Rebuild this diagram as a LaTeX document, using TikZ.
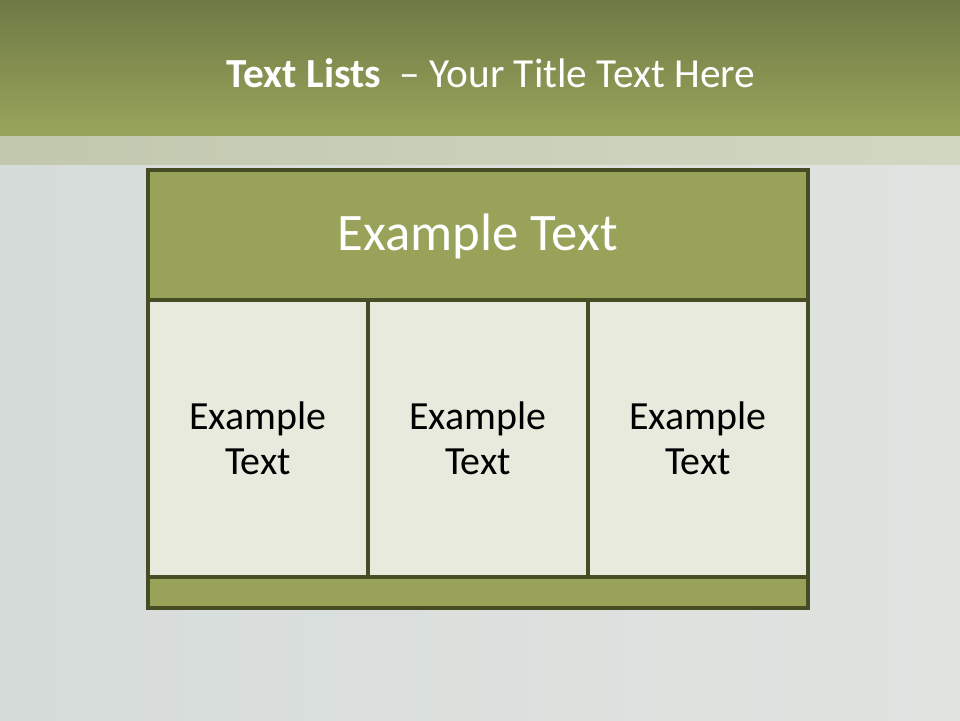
\documentclass[tikz,border=0pt]{standalone}
\usepackage{fontspec}
\setmainfont{Carlito}
\usepackage{xcolor}
\usepackage{tikz}
\usetikzlibrary{positioning}

\definecolor{olivetop}{HTML}{6E7A45}
\definecolor{olivemid}{HTML}{9AA55B}
\definecolor{olivebox}{HTML}{98A258}
\definecolor{oliveline}{HTML}{464D25}
\definecolor{cellfill}{HTML}{E8EADD}
\definecolor{stripL}{HTML}{C2C8AE}
\definecolor{stripR}{HTML}{D2D7C2}
\definecolor{waterA}{HTML}{D6DCDA}
\definecolor{waterB}{HTML}{E0E4E1}

\begin{document}
\begin{tikzpicture}[
  cell/.style={draw=oliveline, line width=2.8pt, fill=cellfill,
    minimum width=5.5cm, minimum height=6.925cm, align=center,
    font=\fontsize{28.4}{32}\selectfont, text=black},
  bar/.style={draw=oliveline, line width=2.8pt, fill=olivebox,
    minimum width=16.5cm},
  titletext/.style={text=white, font=\fontsize{29.4}{35}\selectfont}
]
% Background and title band
\fill[left color=waterA, right color=waterB] (0,0) rectangle (24,18);
\shade[top color=olivetop, bottom color=olivemid] (0,18) rectangle (24,14.575);
\shade[left color=stripL, right color=stripR] (0,14.575) rectangle (24,13.875);
\useasboundingbox (0,0) rectangle (24,18);
\node[titletext, anchor=base] (title) at (12.275,15.8)
  {\textbf{Text Lists}\ \ – Your Title Text Here};
% Table
\node[bar, minimum height=3.3cm, text=white,
  font=\fontsize{37.5}{45}\selectfont] (hdr) at (11.95,12.1) {Example Text};
\node[cell] (colA) at (6.45,7.0375)  {Example\\Text};
\node[cell] (colB) at (11.95,7.0375) {Example\\Text};
\node[cell] (colC) at (17.45,7.0375) {Example\\Text};
\node[bar, minimum height=0.775cm] (ftr) at (11.95,3.1875) {};
\end{tikzpicture}
\end{document}
